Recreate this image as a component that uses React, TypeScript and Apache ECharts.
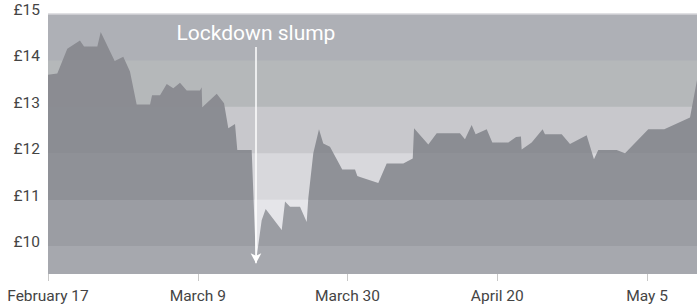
import React, { useEffect, useRef } from "react";
import * as echarts from "echarts";

// x positions are measured in chart "day slots" (15 slots between labelled dates)
const tickPositions = [0, 15, 30, 45, 60];
const tickLabels = ["February 17", "March 9", "March 30", "April 20", "May 5"];

const dayIndex = [
  0, 0.93, 1.93, 3.2, 3.61, 4.94, 5.28, 6.68, 7.54, 8.21, 8.88, 10.22, 10.42, 11.22, 11.89,
  12.55, 13.22, 13.89, 15.22, 15.39, 15.45, 16.9, 17.63, 18.06, 18.73, 18.96, 20.4, 20.83,
  21.4, 21.8, 23.41, 23.74, 24.24, 25.24, 25.91, 26.07, 26.57, 27.14, 27.57, 28.24, 29.47,
  30.75, 30.98, 31.25, 33.08, 33.92, 35.58, 36.53, 36.66, 38.09, 38.93, 41.26, 41.76, 42.43,
  42.83, 43.94, 44.5, 46.1, 46.88, 47.37, 47.44, 48.44, 49.54, 49.77, 51.45, 52.28, 53.95,
  54.68, 55.11, 56.96, 57.79, 60.12, 61.72, 64.3, 65.0,
];
const price = [
  13.69, 13.72, 14.25, 14.43, 14.3, 14.3, 14.61, 13.99, 14.08, 13.76, 13.05, 13.05, 13.25,
  13.25, 13.49, 13.4, 13.52, 13.35, 13.35, 13.42, 12.99, 13.28, 13.08, 12.54, 12.63, 12.07,
  12.07, 9.66, 10.56, 10.8, 10.35, 10.96, 10.85, 10.85, 10.52, 11.03, 12.0, 12.52, 12.21,
  12.14, 11.65, 11.65, 11.51, 11.49, 11.36, 11.78, 11.78, 11.89, 12.54, 12.19, 12.43, 12.43,
  12.3, 12.61, 12.41, 12.52, 12.23, 12.23, 12.35, 12.36, 12.08, 12.23, 12.52, 12.41, 12.41,
  12.2, 12.39, 11.87, 12.07, 12.07, 12.0, 12.52, 12.52, 12.77, 13.58,
];

const yTicks = [10, 11, 12, 13, 14, 15];
const yMin = 9.4;
const yMax = 15;
const xMin = 0;
const xMax = 65;
const bandEdges = [9.4, 10, 11, 12, 13, 14, 15];

const annotationText = "Lockdown slump";
const annotationX = 20.83;
const annotationTextY = 14.6;
const annotationLineTop = 14.29;
const annotationLineBottom = 9.63;

// colours of background bands (above the line), bottom to top
const bandAboveColors = ["#eeeef1", "#e5e5e9", "#d8d8dc", "#c8c8cc", "#b5b8ba", "#aeb0b6"];
// colours of the filled area in each band, bottom to top
const bandBelowColors = ["#a6a8ae", "#9b9da3", "#8f9197", "#8b8d93", "#8b8c92", "#8a8b91"];

export default function App() {
  const ref = useRef<HTMLDivElement>(null);

  useEffect(() => {
    if (!ref.current) return;
    const chart = echarts.init(ref.current, undefined, { renderer: "svg" });

    const data = dayIndex.map((d, i) => [d, price[i]]);
    const vmax = Math.max(...price);
    const off = (v: number) => Math.min(1, Math.max(0, (vmax - v) / (vmax - yMin)));
    const stops: { offset: number; color: string }[] = [];
    for (let k = bandEdges.length - 2; k >= 0; k--) {
      const hi = bandEdges[k + 1];
      const lo = bandEdges[k];
      if (off(hi) === off(lo)) continue;
      stops.push({ offset: off(hi), color: bandBelowColors[k] });
      stops.push({ offset: off(lo), color: bandBelowColors[k] });
    }

    // each band runs from its lower edge up to the top, later bands cover the upper part
    // (overlapping avoids anti-aliasing seams between adjacent bands)
    const bandAreas = bandAboveColors.map((c, k) => [
      { coord: [xMin, bandEdges[k]], itemStyle: { color: c, borderWidth: 0 } },
      { coord: [xMax, yMax] },
    ]);

    chart.setOption({
      animation: false,
      textStyle: { fontFamily: "Roboto" },
      grid: { left: 48, right: 3, top: 14, bottom: 34 },
      xAxis: {
        type: "value",
        min: xMin,
        max: xMax,
        splitLine: { show: false },
        axisLine: { show: false },
        axisTick: {
          show: true,
          customValues: tickPositions,
          length: 7,
          lineStyle: { color: "#c8c8c8", width: 1 },
        },
        axisLabel: {
          customValues: tickPositions,
          margin: 14,
          fontSize: 15.5,
          color: "#444",
          fontFamily: "Roboto",
          formatter: (v: number) => {
            const i = tickPositions.indexOf(Math.round(v));
            return i >= 0 ? tickLabels[i] : "";
          },
        },
      },
      yAxis: {
        type: "value",
        min: yMin,
        max: yMax,
        splitLine: { show: false },
        axisLine: { show: false },
        axisTick: { show: false },
        axisLabel: {
          customValues: yTicks,
          margin: 8,
          fontSize: 15.5,
          color: "#444",
          fontFamily: "Roboto",
          verticalAlign: "bottom",
          lineHeight: 8,
          formatter: (v: number) => "£" + v,
        },
      },
      series: [
        {
          type: "line",
          data: data,
          z: 2,
          showSymbol: false,
          symbol: "none",
          silent: true,
          lineStyle: { width: 0, opacity: 0 },
          areaStyle: {
            opacity: 1,
            color: new echarts.graphic.LinearGradient(0, 0, 0, 1, stops),
          },
          markArea: {
            silent: true,
            z: 1,
            data: bandAreas,
          },
          markLine: {
            silent: true,
            z: 5,
            symbol: ["none", "arrow"],
            symbolSize: [8, 10],
            label: { show: false },
            lineStyle: { color: "#ffffff", width: 1.5, type: "solid" },
            data: [
              [
                { coord: [annotationX, annotationLineTop] },
                { coord: [annotationX, annotationLineBottom] },
              ],
              [
                { coord: [xMin, yMax], symbol: "none", lineStyle: { color: "#d6d6da", width: 1.5, type: "solid" } },
                { coord: [xMax, yMax], symbol: "none" },
              ],
            ],
          },
          markPoint: {
            silent: true,
            z: 6,
            data: [
              {
                coord: [annotationX, annotationTextY],
                symbol: "rect",
                symbolSize: 1,
                itemStyle: { color: "rgba(0,0,0,0)" },
                label: {
                  show: true,
                  position: "inside",
                  formatter: annotationText,
                  color: "#ffffff",
                  fontSize: 21,
                  fontFamily: "Roboto",
                },
              },
            ],
          },
        },
      ],
    });

    return () => chart.dispose();
  }, []);

  return (
    <div
      ref={ref}
      style={{ position: "fixed", left: 0, top: 0, width: 700, height: 308, background: "#fff" }}
    />
  );
}
